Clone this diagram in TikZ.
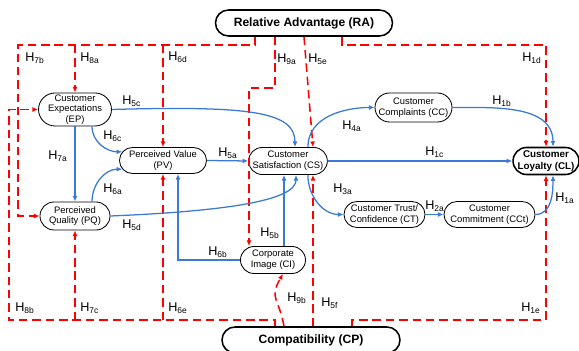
\documentclass[tikz,border=0pt]{standalone}
\usepackage{fontspec}
\setmainfont{Liberation Sans}
\usetikzlibrary{shapes.misc}
\usetikzlibrary{arrows.meta}
\definecolor{pathblue}{RGB}{58,122,214}
\definecolor{modred}{RGB}{255,0,0}
\tikzset{construct/.style={rounded rectangle, draw=black, line width=0.6pt, align=center, inner sep=0pt, font=\fontsize{6.7}{7.6}\selectfont},
	keyconstruct/.style={construct, line width=1.1pt, font=\bfseries\fontsize{7}{8}\selectfont},
	%the two moderators, top and bottom
	outerconstruct/.style={construct, line width=1.1pt, font=\bfseries\fontsize{8.6}{10}\selectfont},
	hlabel/.style={anchor=base west, inner sep=0pt, font=\fontsize{9}{10}\selectfont},
	effect/.style={draw=pathblue, line width=0.9pt, -{Latex[length=4pt,width=3.5pt]}},
	moderator/.style={draw=modred, line width=1.1pt, dash pattern=on 6pt off 3.5pt, -{Latex[length=4pt,width=3.5pt]}}}

\begin{document}
\begin{tikzpicture}[x=0.25mm, y=0.25mm]
		\useasboundingbox (0,0) rectangle (579,-351);
		% constructs
		\node[outerconstruct, minimum width=44.25mm, minimum height=6.5mm] (RA) at (304,-23) {Relative Advantage (RA)};
		\node[outerconstruct, minimum width=44.5mm, minimum height=6.5mm] (CP) at (311,-340) {Compatibility (CP)};
		\node[construct, minimum width=17.5mm, minimum height=8.25mm] (EP) at (75,-109.5) {Customer\\Expectations\\(EP)};
		\node[construct, minimum width=17.5mm, minimum height=7mm] (PQ) at (75,-216) {Perceived\\Quality (PQ)};
		\node[construct, minimum width=21.75mm, minimum height=6.5mm] (PV) at (163,-160.5) {Perceived Value\\(PV)};
		\node[construct, minimum width=17.25mm, minimum height=6.75mm] (CS) at (288,-161) {Customer\\Satisfaction (CS)};
		\node[construct, minimum width=19.25mm, minimum height=7.25mm] (CC) at (413.5,-107.5) {Customer\\Complaints (CC)};
		\node[keyconstruct, minimum width=15.75mm, minimum height=6.75mm] (CL) at (546,-161) {Customer\\Loyalty (CL)};
		\node[construct, minimum width=20.25mm, minimum height=6.5mm] (CT) at (384.5,-214.5) {Customer Trust/\\Confidence (CT)};
		\node[construct, minimum width=22.75mm, minimum height=6.5mm] (CCt) at (489.5,-214.5) {Customer\\Commitment (CCt)};
		\node[construct, minimum width=16.25mm, minimum height=6.75mm] (CI) at (273,-260) {Corporate\\Image (CI)};

		\coordinate (topbus) at (18,-45);
		\coordinate (botbus) at (9,-320);
		\coordinate (csfoot) at ([xshift=6.25mm]CS.south);
		\coordinate (citop) at ([xshift=2.75mm]CI.north);

		% moderating effects of RA
		\draw[moderator] ([xshift=-12.25mm]RA.south) |- (topbus) |- (PQ.west);
		\draw[moderator] (EP.north |- topbus) -- (EP.north);
		\draw[moderator] (PV.north |- topbus) -- (PV.north);
		\draw[moderator] ([xshift=-7.25mm]RA.south) -- ++(0,-51) -| ([xshift=-6mm]CI.north);
		\draw[moderator] (RA.south) -- ([xshift=6.25mm]CS.north);
		\draw[moderator] ([xshift=9.5mm]RA.south) |- (CL.north |- topbus) -- (CL.north);
		% moderating effects of CP
		\draw[moderator] ([xshift=-9mm]CP.north) |- (botbus) |- (EP.west);
		\draw[moderator] (PQ.south |- botbus) -- (PQ.south);
		\draw[moderator] (PV.south |- botbus) -- (PV.south);
		\draw[moderator] ([xshift=-6.75mm]CP.north) to[out=100, in=-120, looseness=1.4] ([xshift=2.5mm]CI.south);
		\draw[moderator] (csfoot |- CP.north) -- (csfoot);
		\draw[moderator] ([xshift=10.25mm]CP.north) |- (CL.south |- botbus) -- (CL.south);

		% direct paths
		\draw[effect] (EP.east) .. controls +(140,4) and +(0,35) .. ([xshift=1.75mm]CS.north);
		\draw[effect] ([xshift=4.25mm]EP.south) to[out=-90, in=180] (PV.168);
		\draw[effect] (EP.south) -- (PQ.north);
		\draw[effect] ([xshift=4.25mm]PQ.north) to[out=90, in=180] (PV.192);
		\draw[effect] (PQ.east) .. controls +(120,5) and +(0,-25) .. ([xshift=2mm]CS.south);
		\draw[effect] (PV.east) -- (CS.west);
		\draw[effect] (CI.west) -| ([xshift=3.75mm]PV.south);
		\draw[effect] (citop) -- (citop |- CS.south);
		\draw[effect] (CS.35) to[out=90, in=180] (CC.west);
		\draw[effect] (CS.east) -- (CL.west);
		\draw[effect] (CS.-35) to[out=-90, in=180] (CT.west);
		\draw[effect] (CT.east) -- (CCt.west);
		\draw[effect] (CC.east) to[out=0, in=90] ([xshift=1.75mm]CL.north);
		\draw[effect] (CCt.east) to[out=0, in=-90] ([xshift=1.75mm]CL.south);

		% hypotheses
		\node[hlabel] (h7b) at (25,-62) {H\textsubscript{7b}};
		\node[hlabel] (h8a) at (80,-62) {H\textsubscript{8a}};
		\node[hlabel] (h6d) at (168,-61) {H\textsubscript{6d}};
		\node[hlabel] (h9a) at (277,-63) {H\textsubscript{9a}};
		\node[hlabel] (h5e) at (308,-63) {H\textsubscript{5e}};
		\node[hlabel] (h1d) at (522,-62) {H\textsubscript{1d}};
		\node[hlabel] (h5c) at (122,-105) {H\textsubscript{5c}};
		\node[hlabel] (h6c) at (103,-140) {H\textsubscript{6c}};
		\node[hlabel] (h7a) at (48,-160) {H\textsubscript{7a}};
		\node[hlabel] (h6a) at (103,-193) {H\textsubscript{6a}};
		\node[hlabel] (h5d) at (122,-229) {H\textsubscript{5d}};
		\node[hlabel] (h5a) at (218,-157) {H\textsubscript{5a}};
		\node[hlabel] (h5b) at (260,-237) {H\textsubscript{5b}};
		\node[hlabel] (h6b) at (208,-256) {H\textsubscript{6b}};
		\node[hlabel] (h4a) at (342,-130) {H\textsubscript{4a}};
		\node[hlabel] (h1c) at (425,-156) {H\textsubscript{1c}};
		\node[hlabel] (h3a) at (333,-193) {H\textsubscript{3a}};
		\node[hlabel] (h2a) at (425,-210) {H\textsubscript{2a}};
		\node[hlabel] (h1a) at (555,-202) {H\textsubscript{1a}};
		\node[hlabel] (h1b) at (492,-105) {H\textsubscript{1b}};
		\node[hlabel] (h8b) at (15,-312) {H\textsubscript{8b}};
		\node[hlabel] (h7c) at (80,-312) {H\textsubscript{7c}};
		\node[hlabel] (h6e) at (168,-312) {H\textsubscript{6e}};
		\node[hlabel] (h9b) at (287,-302) {H\textsubscript{9b}};
		\node[hlabel] (h5f) at (321,-307) {H\textsubscript{5f}};
		\node[hlabel] (h1e) at (521,-312) {H\textsubscript{1e}};
	\end{tikzpicture}
\end{document}
